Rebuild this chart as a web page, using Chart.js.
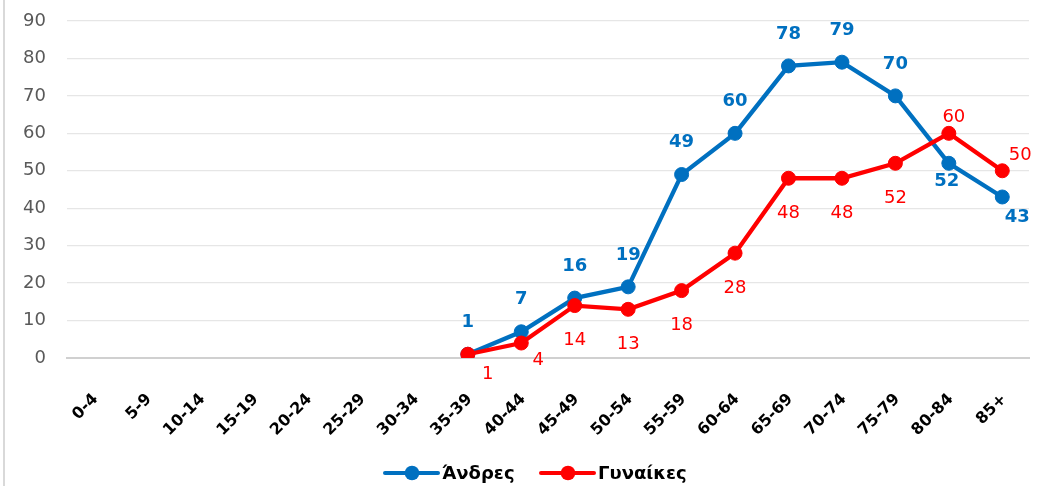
<!DOCTYPE html>
<html>
<head>
<meta charset="utf-8">
<script src="https://cdn.jsdelivr.net/npm/chart.js@4.4.1/dist/chart.umd.min.js"></script>
<style>
  html, body { margin: 0; padding: 0; background: #fff; }
  #wrap { position: relative; width: 1037px; height: 486px; }
  #edge { position: absolute; left: 3px; top: 0; width: 2px; height: 486px; background: #D9D9D9; }
  canvas { position: absolute; left: 0; top: 0; }
</style>
</head>
<body>
<div id="wrap">
  <canvas id="c" width="1037" height="486"></canvas>
  <div id="edge"></div>
</div>
<script>
// ---- Data ----
const categories = ['0-4','5-9','10-14','15-19','20-24','25-29','30-34','35-39','40-44','45-49','50-54','55-59','60-64','65-69','70-74','75-79','80-84','85+'];
const men   = [null,null,null,null,null,null,null, 1, 7, 16, 19, 49, 60, 78, 79, 70, 52, 43];
const women = [null,null,null,null,null,null,null, 1, 4, 14, 13, 18, 28, 48, 48, 52, 60, 50];
const seriesNames = ['Άνδρες', 'Γυναίκες'];
const yTicks = [0,10,20,30,40,50,60,70,80,90];

// ---- Styles ----
const BLUE = '#0070C0';
const RED = '#FF0000';
const FONT = "'DejaVu Sans', sans-serif";

// label placement per category index (dx, dy from point)
const menLabelPlace = { def: [0, -32], 16: [-2, 18], 17: [15, 20] };
const womenLabelPlace = { def: [0, 35], 7: [20, 20], 8: [17, 17], 16: [5, -16], 17: [18, -15] };

const dataLabels = {
  id: 'dataLabels',
  afterDatasetsDraw(chart) {
    const ctx = chart.ctx;
    chart.data.datasets.forEach((ds, di) => {
      const meta = chart.getDatasetMeta(di);
      const place = ds._place;
      ctx.save();
      ctx.fillStyle = ds.borderColor;
      ctx.font = ds._labelFont;
      ctx.textAlign = 'center';
      ctx.textBaseline = 'middle';
      meta.data.forEach((pt, i) => {
        const v = ds.data[i];
        if (v === null || v === undefined) return;
        const off = place[i] || place.def;
        ctx.fillText(String(v), pt.x + off[0], pt.y + off[1]);
      });
      ctx.restore();
    });
  }
};

const customLegend = {
  id: 'customLegend',
  afterDraw(chart) {
    const ctx = chart.ctx;
    const y = 473;
    const items = [
      { color: BLUE, text: seriesNames[0], x0: 385 },
      { color: RED, text: seriesNames[1], x0: 541 }
    ];
    ctx.save();
    items.forEach(it => {
      ctx.strokeStyle = it.color;
      ctx.lineWidth = 4;
      ctx.lineCap = 'round';
      ctx.beginPath();
      ctx.moveTo(it.x0, y);
      ctx.lineTo(it.x0 + 53, y);
      ctx.stroke();
      ctx.fillStyle = it.color;
      ctx.beginPath();
      ctx.arc(it.x0 + 27, y, 7.3, 0, Math.PI * 2);
      ctx.fill();
      ctx.fillStyle = '#000';
      ctx.font = "bold 18px " + FONT;
      ctx.textAlign = 'left';
      ctx.textBaseline = 'middle';
      ctx.fillText(it.text, it.x0 + 57, y + 1);
    });
    ctx.restore();
  }
};

new Chart(document.getElementById('c'), {
  type: 'line',
  data: {
    labels: categories,
    datasets: [
      {
        label: seriesNames[0], data: men,
        borderColor: BLUE, backgroundColor: BLUE,
        borderWidth: 4.3, pointRadius: 7, pointBorderWidth: 1,
        pointHoverRadius: 7, tension: 0, order: 1,
        _place: menLabelPlace, _labelFont: "bold 18px " + FONT
      },
      {
        label: seriesNames[1], data: women,
        borderColor: RED, backgroundColor: RED,
        borderWidth: 4.3, pointRadius: 7, pointBorderWidth: 1,
        pointHoverRadius: 7, tension: 0, order: 0,
        _place: womenLabelPlace, _labelFont: "18px " + FONT
      }
    ]
  },
  options: {
    responsive: false,
    animation: false,
    devicePixelRatio: 1,
    layout: { padding: { top: 21, right: 3, left: 0, bottom: 0 } },
    plugins: {
      legend: { display: false },
      tooltip: { enabled: false },
      title: { display: false }
    },
    scales: {
      x: {
        offset: true,
        grid: { display: false, drawTicks: false },
        border: { display: true, color: '#D0D0D0', width: 2 },
        ticks: {
          minRotation: 45, maxRotation: 45, autoSkip: false,
          color: '#000', padding: 32, labelOffset: 2,
          font: { family: FONT, size: 16, weight: 'bold' }
        },
        afterFit(scale) {
          scale.height = 128;
          scale.paddingLeft = 0; scale.paddingRight = 0;
        }
      },
      y: {
        min: 0, max: 90,
        afterBuildTicks(scale) { scale.ticks = yTicks.map(v => ({ value: v })); },
        grid: {
          drawTicks: false,
          color: ctx => ctx.tick && ctx.tick.value === 0 ? '#D0D0D0' : '#E6E6E6',
          lineWidth: ctx => ctx.tick && ctx.tick.value === 0 ? 2 : 1.3
        },
        border: { display: false },
        ticks: {
          color: '#595959', padding: 21,
          font: { family: FONT, size: 18 }
        },
        afterFit(scale) {
          scale.width = 67;
          scale.paddingTop = 0; scale.paddingBottom = 0;
        }
      }
    }
  },
  plugins: [dataLabels, customLegend]
});
</script>
</body>
</html>
